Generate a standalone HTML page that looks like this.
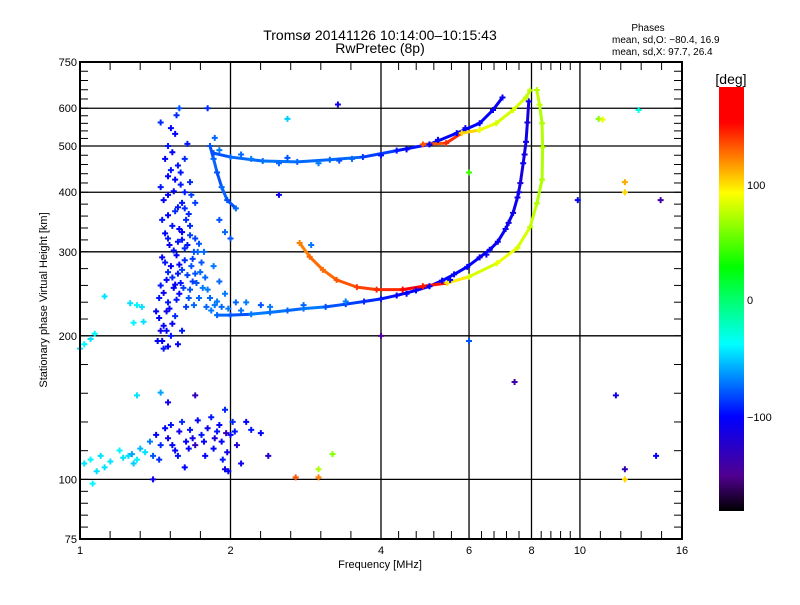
<!DOCTYPE html>
<html><head><meta charset="utf-8"><style>
body{margin:0;background:#fff;width:800px;height:600px;overflow:hidden}
svg text{font-family:"Liberation Sans",sans-serif;fill:#000}
</style></head><body>
<svg id="chart" width="800" height="600" xmlns="http://www.w3.org/2000/svg">
<defs><linearGradient id="cbg" x1="0" y1="1" x2="0" y2="0">
<stop offset="0" stop-color="#000"/><stop offset="0.083" stop-color="#500090"/><stop offset="0.222" stop-color="#0000ff"/>
<stop offset="0.394" stop-color="#00ffff"/><stop offset="0.575" stop-color="#00ff00"/><stop offset="0.75" stop-color="#ffff00"/>
<stop offset="0.833" stop-color="#ff8000"/><stop offset="0.917" stop-color="#ff0000"/><stop offset="1" stop-color="#ff0000"/>
</linearGradient></defs>
<text x="380" y="40" font-size="14" text-anchor="middle">Tromsø 20141126 10:14:00–10:15:43</text>
<text x="380" y="53" font-size="14" text-anchor="middle">RwPretec (8p)</text>
<text x="648" y="31" font-size="10" text-anchor="middle">Phases</text>
<text x="612" y="43" font-size="10">mean, sd,O: −80.4, 16.9</text>
<text x="612" y="55" font-size="10">mean, sd,X:  97.7, 26.4</text>
<g id="grid"></g><g id="traces"></g><g id="marks"></g><g id="axes"></g>
<rect x="719" y="87" width="25" height="424" fill="url(#cbg)"/>
<text x="731" y="84" font-size="14" text-anchor="middle">[deg]</text>
<text x="747" y="189" font-size="11">100</text>
<text x="747" y="304" font-size="11">0</text>
<text x="747" y="421" font-size="11">−100</text>
<text x="380" y="568" font-size="11" text-anchor="middle">Frequency [MHz]</text>
<text transform="translate(47,300) rotate(-90)" font-size="11" text-anchor="middle">Stationary phase Virtual Height [km]</text>
</svg>
<script>
const xTickLabels=[1,2,4,6,8,10,16];
const yTickLabels=[75,100,200,300,400,500,600,750];
const xGrid=[2,4,6,8,10];
const yGrid=[100,200,300,400,500,600];
const oLower=[[1.88,221,-75],[2.0,221,-80],[2.2,222,-70],[2.4,224,-72],[2.6,226,-75],[2.8,228,-70],[3.1,230,-80],[3.4,233,-85],[3.7,236,-90],[4.0,239,-95],[4.3,243,-100],[4.7,249,-100],[5.0,254,-100],[5.3,261,-100],[5.6,269,-100],[5.95,279,-100],[6.3,292,-105],[6.6,303,-105],[6.85,315,-105],[7.1,335,-105],[7.35,362,-110],[7.5,390,-110],[7.6,418,-115],[7.7,460,-110],[7.8,510,-110],[7.85,560,-115],[7.9,620,-110]];
const xLower=[[2.75,313,120],[2.88,293,125],[3.06,275,125],[3.26,262,130],[3.58,253,135],[3.92,250,140],[4.42,250,150],[4.85,254,145],[5.43,258,95],[6.0,266,80],[6.83,284,85],[7.5,306,80],[7.95,338,75],[8.2,379,70],[8.4,425,70],[8.42,497,72],[8.4,558,70],[8.3,610,75],[8.2,655,72]];
const oUpper=[[1.82,500,-80],[1.85,470,-75],[1.88,440,-80],[1.92,410,-75],[1.97,385,-80],[2.05,370,-75]];
const oUpper2=[[1.85,483,-80],[2.0,474,-75],[2.32,465,-72],[2.72,463,-75],[3.16,468,-75],[3.68,474,-85],[4.3,489,-95],[5.0,504,-100],[5.67,532,-100],[6.3,558,-100],[6.7,595,-105],[7.0,632,-105]];
const xUpper=[[4.85,504,130],[5.4,507,140],[5.8,532,100],[6.3,540,85],[6.8,558,80],[7.35,595,80],[7.8,632,75],[7.95,654,75]];
const spreadF=[[1.5,190,-100],[1.52,200,-95],[1.47,210,-100],[1.55,220,-90],[1.5,235,-95],[1.58,245,-100],[1.45,255,-95],[1.53,265,-90],[1.6,275,-85],[1.48,285,-95],[1.56,295,-100],[1.62,305,-90],[1.5,320,-95],[1.58,335,-100],[1.46,350,-95],[1.55,365,-90],[1.6,380,-95],[1.5,395,-100],[1.45,410,-95],[1.55,425,-100],[1.52,445,-95],[1.48,470,-100],[1.5,500,-95],[1.55,530,-100],[1.45,560,-90],[1.63,230,-85],[1.66,250,-80],[1.7,270,-80],[1.68,290,-85],[1.72,300,-75],[1.75,285,-80],[1.78,265,-75],[1.8,250,-70],[1.82,240,-75],[1.86,232,-70],[1.7,320,-85],[1.66,340,-90],[1.65,360,-90],[1.7,380,-85],[1.62,400,-95],[1.66,420,-90],[1.6,330,-100],[1.64,310,-95],[1.68,260,-85],[1.43,195,-100],[1.47,188,-95],[1.57,192,-100],[1.6,205,-95],[1.42,225,-100],[1.44,240,-95],[1.5,272,-90],[1.57,315,-95],[1.73,312,-80],[1.77,300,-75],[1.85,280,-70],[1.9,260,-75],[1.95,245,-70],[2.05,235,-75],[2.15,235,-70],[2.3,232,-80],[1.58,600,-80],[1.8,600,-90]];
const spreadF2=[[1.46,195,-100],[1.49,205,-100],[1.53,212,-105],[1.44,218,-100],[1.51,228,-100],[1.56,238,-95],[1.47,246,-105],[1.54,252,-100],[1.59,258,-95],[1.49,262,-100],[1.57,270,-95],[1.52,280,-100],[1.62,288,-90],[1.46,292,-100],[1.54,302,-95],[1.6,318,-95],[1.48,328,-100],[1.53,340,-95],[1.63,350,-90],[1.5,358,-100],[1.57,372,-95],[1.47,385,-100],[1.54,402,-100],[1.59,415,-95],[1.5,432,-100],[1.57,455,-95],[1.53,485,-100],[1.61,252,-85],[1.65,240,-80],[1.69,232,-75],[1.73,240,-75],[1.76,252,-70],[1.71,258,-80],[1.64,268,-85],[1.67,280,-80],[1.74,272,-75],[1.79,230,-75],[1.83,226,-70],[1.88,236,-70],[1.92,230,-75],[1.98,228,-70],[2.1,226,-72],[1.69,300,-80],[1.66,325,-85],[1.62,370,-90],[1.67,395,-85],[1.59,440,-95],[1.62,470,-90],[1.64,505,-95],[1.56,580,-90],[1.52,545,-100],[1.45,205,-110],[1.49,225,-110],[1.55,256,-105],[1.51,310,-105],[1.58,282,-100],[1.9,350,-80],[1.95,330,-75],[2.0,320,-80],[1.86,520,-75],[1.9,490,-70],[2.1,480,-75],[2.2,470,-70],[2.5,460,-75],[2.6,472,-80],[3.0,460,-70],[3.3,466,-80],[3.5,470,-75],[4.0,478,-95],[4.5,492,-100],[5.2,515,-100],[5.9,545,-105],[4.5,245,-100],[5.5,262,-100],[6.5,296,-105],[7.2,345,-110],[7.55,400,-110],[7.75,480,-115],[2.4,230,-70],[2.8,232,-75],[3.4,236,-70]];
const eLayer=[[1.02,108,-45],[1.05,110,-40],[1.08,104,-45],[1.06,98,-40],[1.1,112,-45],[1.12,106,-45],[1.2,115,-40],[1.25,112,-45],[1.3,110,-40],[1.35,114,-45],[1.38,120,-70],[1.42,124,-100],[1.45,118,-90],[1.48,128,-100],[1.5,122,-110],[1.52,130,-95],[1.55,115,-100],[1.58,126,-110],[1.6,132,-90],[1.63,120,-100],[1.66,127,-95],[1.7,118,-130],[1.72,133,-100],[1.75,124,-95],[1.78,112,-100],[1.8,128,-110],[1.83,135,-95],[1.86,122,-120],[1.9,130,-100],[1.93,110,-95],[1.96,125,-130],[1.98,104,-100],[2.02,132,-90],[2.06,118,-120],[2.1,108,-110],[2.15,132,-100],[2.2,127,-95],[2.3,125,-100],[2.38,112,-120],[1.45,152,-60],[1.5,145,-110],[1.7,150,-130],[1.95,140,-90],[1.3,150,-45],[1.95,105,-110],[1.62,106,-100],[1.4,100,-110],[1.27,113,-60],[1.32,116,-55],[1.4,112,-80],[1.44,110,-90],[1.53,118,-100],[1.57,112,-95],[1.65,116,-100],[1.68,122,-110],[1.77,120,-100],[1.85,116,-100],[1.88,126,-95],[1.92,120,-100],[1.97,114,-110],[2.0,124,-100],[2.04,126,-95],[1.15,109,-45],[1.22,111,-45],[1.28,108,-50]];
const leftCyan=[[1.0,188,-45],[1.02,192,-40],[1.05,197,-45],[1.07,202,-40],[1.26,234,-45],[1.3,232,-40],[1.33,230,-45],[1.28,213,-40],[1.34,214,-45],[1.12,242,-45]];
const scatter=[[3.28,611,-110],[10.9,570,60],[11.1,568,85],[12.3,420,110],[12.3,400,100],[9.9,385,-100],[6.0,440,40],[2.5,395,-110],[11.8,150,-110],[12.3,105,-130],[12.3,100,100],[14.2,112,-100],[7.4,160,-140],[3.2,113,60],[3.0,105,70],[3.0,101,120],[2.7,101,130],[2.9,310,-70],[4.0,200,-150],[6.0,195,-80],[2.6,570,-50],[13.1,595,-30],[14.5,385,-140]];
const L=80,R=682,T=62,B=539;
function xs(f){return L+Math.log2(f)*(R-L)/4}
function ys(h){return B-Math.log10(h/75)*(B-T)}
const stops=[[-180,[0,0,0]],[-150,[80,0,144]],[-100,[0,0,255]],[-38,[0,255,255]],[27,[0,255,0]],[90,[255,255,0]],[120,[255,128,0]],[150,[255,0,0]],[180,[255,0,0]]];
function col(p){for(let i=1;i<stops.length;i++){if(p<=stops[i][0]){const a=stops[i-1],b=stops[i],t=(p-a[0])/(b[0]-a[0]);return 'rgb('+a[1].map((v,k)=>Math.round(v+(b[1][k]-v)*t)).join(',')+')';}}return 'rgb(255,0,0)'}
const NS='http://www.w3.org/2000/svg';
function mk(tag,attrs,parent){const e=document.createElementNS(NS,tag);for(const k in attrs)e.setAttribute(k,attrs[k]);document.getElementById(parent).appendChild(e);return e;}
xGrid.forEach(v=>{const e=mk('line',{x1:xs(v),x2:xs(v),y1:T,y2:B,stroke:'#000','stroke-width':1.3},'grid');

});
yGrid.forEach(v=>{const e=mk('line',{x1:L,x2:R,y1:ys(v),y2:ys(v),stroke:'#000','stroke-width':1.3},'grid');

});
function trace(arr,name){for(let i=0;i<arr.length-1;i++){const a=arr[i],b=arr[i+1];const e=mk('line',{x1:xs(a[0]),y1:ys(a[1]),x2:xs(b[0]),y2:ys(b[1]),stroke:col(a[2]),'stroke-width':3,'stroke-linecap':'round'},'traces');

}}
trace(oLower,'o-lower-trace');trace(xLower,'x-lower-trace');trace(oUpper,'o-upper-branch');trace(oUpper2,'o-upper-trace');trace(xUpper,'x-upper-trace');
function pts(arr,name){arr.forEach(p=>{const x=xs(p[0]),y=ys(p[1]);const e=mk('path',{d:`M${x-3},${y}H${x+3}M${x},${y-3}V${y+3}`,stroke:col(p[2]),'stroke-width':2},'marks');

});}
pts(oLower,'o-echo');pts(xLower,'x-echo');pts(oUpper,'o-echo');pts(oUpper2,'o-echo');pts(xUpper,'x-echo');pts(spreadF,'spread-f-echo');pts(spreadF2,'spread-f-echo');pts(eLayer,'e-layer-echo');pts(leftCyan,'low-freq-echo');pts(scatter,'scatter-echo');
const fr=mk('rect',{x:L,y:T,width:R-L,height:B-T,fill:'none',stroke:'#000','stroke-width':2},'axes');


for(let i=0;i<xTickLabels.length;i++){const x=xs(xTickLabels[i]);const t=mk('text',{x:x,y:554,'font-size':11,'text-anchor':'middle'},'axes');t.textContent=xTickLabels[i];


if(i<xTickLabels.length-1){const x2=xs(xTickLabels[i+1]);for(let k=1;k<5;k++){const xx=x+(x2-x)*k/5;mk('line',{x1:xx,x2:xx,y1:B,y2:B-8,stroke:'#000'},'axes');mk('line',{x1:xx,x2:xx,y1:T,y2:T+8,stroke:'#000'},'axes');}}}
for(let i=0;i<yTickLabels.length;i++){const y=ys(yTickLabels[i]);const t=mk('text',{x:77,y:y+4,'font-size':11,'text-anchor':'end'},'axes');t.textContent=yTickLabels[i];


mk('line',{x1:L,x2:L+8,y1:y,y2:y,stroke:'#000'},'axes');mk('line',{x1:R,x2:R-8,y1:y,y2:y,stroke:'#000'},'axes');
if(i<yTickLabels.length-1){const y2=ys(yTickLabels[i+1]);for(let k=1;k<5;k++){const yy=y+(y2-y)*k/5;mk('line',{x1:L,x2:L+8,y1:yy,y2:yy,stroke:'#000'},'axes');mk('line',{x1:R,x2:R-8,y1:yy,y2:yy,stroke:'#000'},'axes');}}}
</script>
</body></html>
